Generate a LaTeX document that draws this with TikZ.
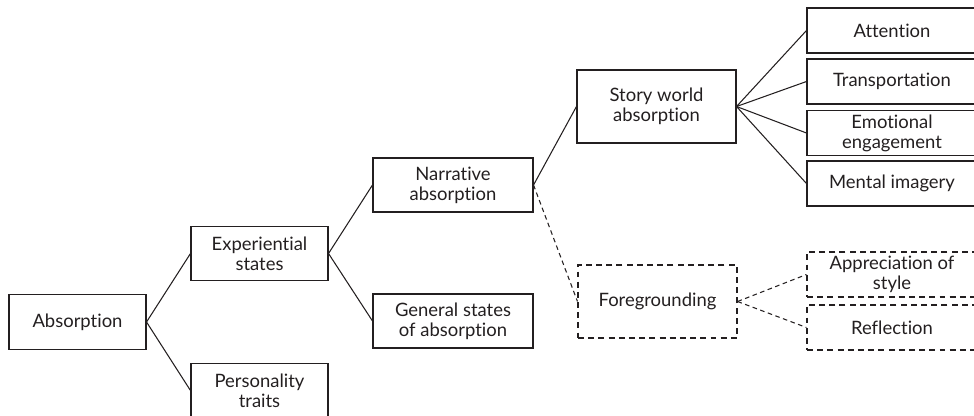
\documentclass[tikz,border=0pt]{standalone}
\usepackage{fontspec}
\setmainfont{Lato}[Ligatures={NoCommon}]
\usetikzlibrary{positioning}
\definecolor{inkblack}{RGB}{35, 31, 32}
\tikzset{
    treebox/.style={draw=inkblack, rectangle, line width=0.6pt, align=center, text=inkblack, inner sep=1pt,
        font=\fontsize{10.5}{11.5}\selectfont},
    levelbox/.style={treebox, minimum width=2.74cm, minimum height=1.09cm},
    widebox/.style={treebox, minimum width=3.2cm, minimum height=1.08cm},
    talllbox/.style={treebox, minimum width=3.18cm, minimum height=1.46cm},
    leafbox/.style={treebox, minimum width=3.4cm, minimum height=0.9cm},
    optbox/.style={dash pattern=on 3.4pt off 2.4pt},
    link/.style={draw=inkblack, line width=0.6pt},
    optlink/.style={link, dash pattern=on 2.6pt off 2pt},
}
\begin{document}
\begin{tikzpicture}
    \useasboundingbox (0,0) rectangle (19.48,8.30);
    % Root
    \node[levelbox] (absorption) at (1.55, 1.86) {Absorption};

    % Second level
    \node[levelbox] (experiential) at (5.19, 3.23) {Experiential\\states};
    \node[levelbox] (personality) at (5.19, 0.49) {Personality\\traits};

    % Third level
    \node[widebox] (narrative) at (9.06, 4.60) {Narrative\\absorption};
    \node[widebox] (general) at (9.06, 1.88) {General states\\of absorption};

    % Fourth level
    \node[talllbox] (story) at (13.13, 6.17) {Story world\\absorption};
    \node[talllbox, optbox] (foreground) at (13.15, 2.27) {Foregrounding};

    % Leaves
    \node[leafbox] (attention) at (17.84, 7.69) {Attention};
    \node[leafbox] (transport) at (17.84, 6.67) {Transportation};
    \node[leafbox] (emotion) at (17.84, 5.64) {Emotional\\engagement};
    \node[leafbox] (imagery) at (17.84, 4.63) {Mental imagery};
    \node[leafbox, optbox] (style) at (17.84, 2.81) {Appreciation of\\style};
    \node[leafbox, optbox] (reflection) at (17.84, 1.75) {Reflection};

    % Connectors
    \draw[link] (absorption.east) -- (experiential.west);
    \draw[link] (absorption.east) -- (personality.west);
    \draw[link] (experiential.east) -- (narrative.west);
    \draw[link] (experiential.east) -- (general.west);
    \draw[link] (narrative.east) -- (story.west);
    \draw[optlink] (narrative.east) -- (foreground.west);
    \foreach \leaf in {attention, transport, emotion, imagery}
        \draw[link] (story.east) -- (\leaf.west);
    \foreach \leaf in {style, reflection}
        \draw[optlink] (foreground.east) -- (\leaf.west);
\end{tikzpicture}
\end{document}
